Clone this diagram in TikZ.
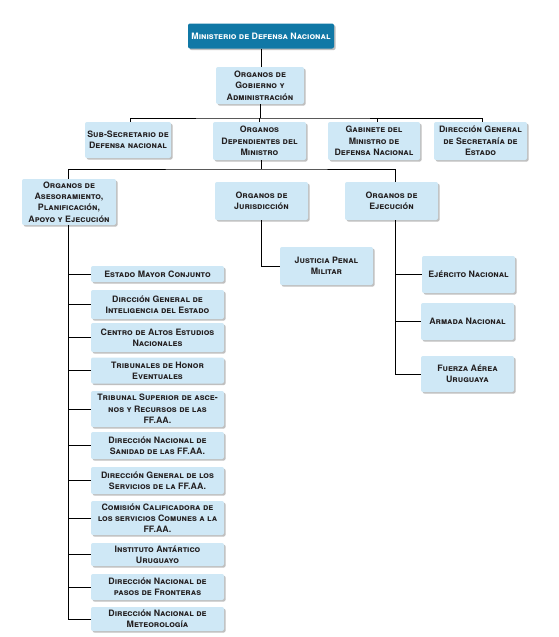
\documentclass[tikz,border=0pt]{standalone}
\usepackage{fontspec}
\setsansfont{TeX Gyre Heros}
\usetikzlibrary{shadows}
\definecolor{boxblue}{HTML}{CFE8F6}
\definecolor{topblue}{HTML}{1078A6}
\definecolor{txt}{HTML}{231F20}
\begin{document}
\begin{tikzpicture}[x=1pt,y=-1pt,
  bx/.style={rounded corners=2pt, fill=boxblue, draw=none, align=center,
    font=\sffamily\bfseries\scshape\fontsize{8.8}{11.3}\selectfont, text=txt,
    inner sep=0.5pt,
    drop shadow={shadow xshift=1.6pt, shadow yshift=-1.6pt, opacity=0.45, fill=black!55}},
  topbx/.style={bx, fill=topblue, text=white},
  ln/.style={draw=black, line width=0.8pt}]
\useasboundingbox (0,0) rectangle (558,637);
\fill[white] (0,0) rectangle (558,637);

% level 0 / 1
\node[topbx, minimum width=146pt, minimum height=25pt] (min) at (261,36) {Ministerio de Defensa Nacional};
\node[bx, minimum width=88pt, minimum height=37pt] (gob) at (260,85.5) {Organos de\\Gobierno y\\Administración};

% level 2
\node[bx, minimum width=86pt, minimum height=36pt] (sub) at (128,140) {Sub-Secretario de\\Defensa nacional};
\node[bx, minimum width=93pt, minimum height=38pt] (dep) at (259.5,141) {Organos\\Dependientes del\\Ministro};
\node[bx, minimum width=92pt, minimum height=38pt] (gab) at (374,141) {Gabinete del\\Ministro de\\Defensa Nacional};
\node[bx, minimum width=93pt, minimum height=38pt] (dir) at (480.5,141) {Dirección General\\de Secretaría de\\Estado};

% level 3
\node[bx, minimum width=94pt, minimum height=46pt] (ase) at (69,202) {Organos de\\Asesoramiento,\\Planificación,\\Apoyo y Ejecución};
\node[bx, minimum width=93pt, minimum height=38pt] (jur) at (261.5,201) {Organos de\\Jurisdicción};
\node[bx, minimum width=93pt, minimum height=38pt] (eje) at (391.5,201) {Organos de\\Ejecución};

% jurisdiccion child
\node[bx, minimum width=93pt, minimum height=38pt] (jus) at (326.5,266) {Justicia Penal\\Militar};

% ejecucion children
\node[bx, minimum width=93pt, minimum height=37pt] (ejr) at (468.5,274.5) {Ejército Nacional};
\node[bx, minimum width=93pt, minimum height=37pt] (arm) at (467.5,321.5) {Armada Nacional};
\node[bx, minimum width=93pt, minimum height=36pt] (fue) at (467.5,374) {Fuerza Aérea\\Uruguaya};

% asesoramiento children
\node[bx, minimum width=133pt, minimum height=16pt] (c1) at (157.5,274) {Estado Mayor Conjunto};
\node[bx, minimum width=133pt, minimum height=29pt] (c2) at (157.5,304.5) {Dircción General de\\Inteligencia del Estado};
\node[bx, minimum width=133pt, minimum height=29pt] (c3) at (157.5,337.5) {Centro de Altos Estudios\\Nacionales};
\node[bx, minimum width=133pt, minimum height=26pt] (c4) at (157.5,370.5) {Tribunales de Honor\\Eventuales};
\node[bx, minimum width=133pt, minimum height=36pt] (c5) at (157.5,409) {Tribunal Superior de asce-\\nos y Recursos de las\\{\upshape FF.AA.}};
\node[bx, minimum width=133pt, minimum height=27pt] (c6) at (157.5,445.5) {Dirección Nacional de\\Sanidad de las {\upshape FF.AA.}};
\node[bx, minimum width=133pt, minimum height=27pt] (c7) at (157.5,480.5) {Dirección General de los\\Servicios de la {\upshape FF.AA.}};
\node[bx, minimum width=133pt, minimum height=34pt] (c8) at (157.5,518) {Comisión Calificadora de\\los servicios Comunes a la\\{\upshape FF.AA.}};
\node[bx, minimum width=133pt, minimum height=23pt] (c9) at (157.5,554.5) {Instituto Antártico\\Uruguayo};
\node[bx, minimum width=133pt, minimum height=26pt] (c10) at (157.5,587) {Dirección Nacional de\\pasos de Fronteras};
\node[bx, minimum width=133pt, minimum height=24pt] (c11) at (157.5,619) {Dirección Nacional de\\Meteorología};

% coordinates
\coordinate (h1) at (260,118);
\coordinate (h2) at (261,169);
\coordinate (ev) at (395,0);

% connectors
\draw[ln] (min.south) -- (min.south |- gob.north);
\draw[ln] (gob.south) -- (gob.south |- h1);
\draw[ln] (sub.north -| 130,0) |- (h1) -| (dir.north -| 482,0);
\draw[ln] (dep.north |- h1) -- (dep.north);
\draw[ln] (gab.north -| 377,0) -- (377,118);
\draw[ln] (dep.south -| h2) -- (h2);
\draw[ln] (68,179) |- (h2) -| (395,182);
\draw[ln] (jur.south -| h2) |- (jus.west);
\draw[ln] (eje.south -| ev) |- (fue.west);
\draw[ln] (ev |- ejr.west) -- (ejr.west);
\draw[ln] (ev |- arm.west) -- (arm.west);
\draw[ln] (ase.south -| 68,0) |- (c11.west);
\foreach \c in {c1,c2,c3,c4,c5,c6,c7,c8,c9,c10}
  \draw[ln] (68,0 |- \c.west) -- (\c.west);
\end{tikzpicture}
\end{document}
